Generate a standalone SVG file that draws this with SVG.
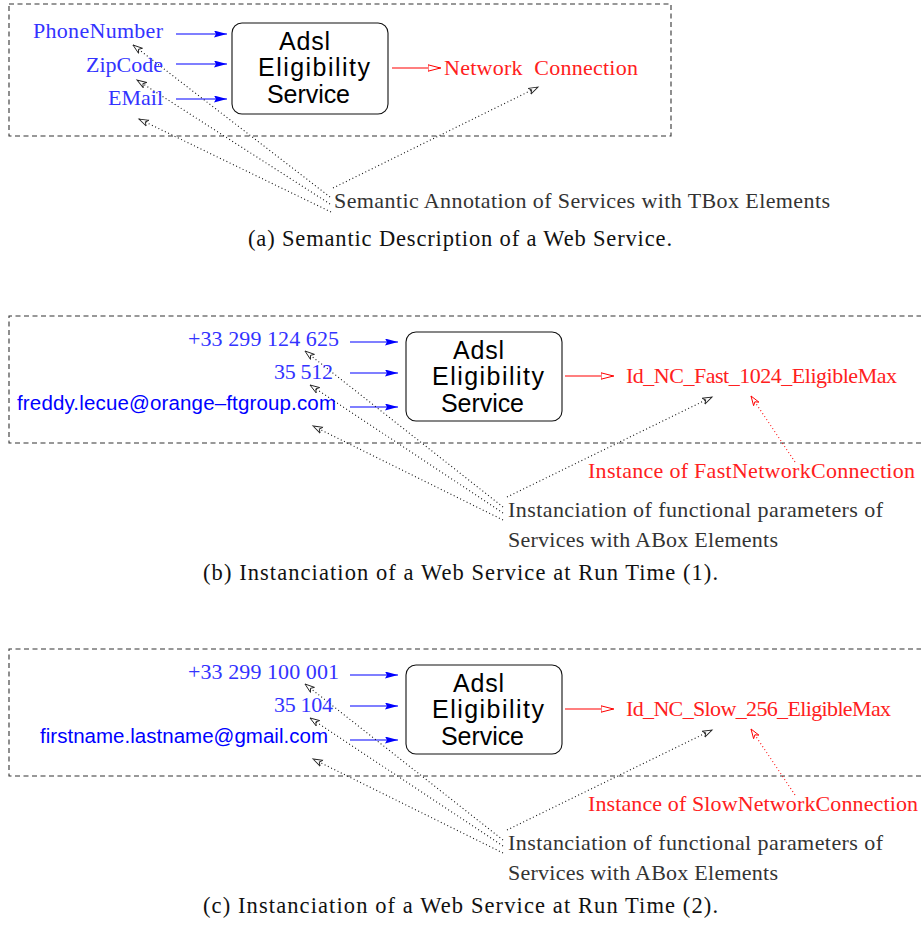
<svg xmlns="http://www.w3.org/2000/svg" width="921" height="925" viewBox="0 0 921 925">
<style>
.frame{fill:none;stroke:#333;stroke-width:1.1;stroke-dasharray:5 3.5}
.box{fill:#fff;stroke:#111;stroke-width:1.1}
.bt{font-family:"Liberation Sans",Arial,sans-serif;font-size:25px;fill:#000}
.in{font-family:"Liberation Serif","Times New Roman",serif;font-size:22px;fill:#3333ff}
.ins{font-family:"Liberation Sans",Arial,sans-serif;font-size:20.5px;fill:#0000ff}
.out{font-family:"Liberation Serif","Times New Roman",serif;font-size:22px;fill:#ff2020}
.ann{font-family:"Liberation Serif","Times New Roman",serif;font-size:22px;fill:#333}
.cap{font-family:"Liberation Serif","Times New Roman",serif;font-size:22.5px;fill:#111}
.blue{stroke:#0000ff;stroke-width:1.2;fill:none;marker-end:url(#mb)}
.red{stroke:#ff0000;stroke-width:1.2;fill:none;marker-end:url(#mr)}
.dot{stroke:#111;stroke-width:1.1;stroke-dasharray:1 2.6;fill:none;marker-end:url(#md)}
.rdot{stroke:#ff0000;stroke-width:1.1;stroke-dasharray:1 2.6;fill:none;marker-end:url(#mrd)}
</style>
<defs>
<marker id="mb" markerUnits="userSpaceOnUse" markerWidth="14" markerHeight="8" refX="13" refY="3.5" orient="auto"><path d="M0,0 L13,3.5 L0,7 L2,3.5 Z" fill="#0000ff"/></marker>
<marker id="mr" markerUnits="userSpaceOnUse" markerWidth="15" markerHeight="9" refX="13.5" refY="4" orient="auto"><path d="M0.5,0.8 L13,4 L0.5,7.2 Z" fill="#fff" stroke="#ff0000" stroke-width="1"/></marker>
<marker id="md" markerUnits="userSpaceOnUse" markerWidth="12" markerHeight="9" refX="10" refY="4" orient="auto"><path d="M0.5,0.8 L10,4 L0.5,7.2 L3,4 Z" fill="#fff" stroke="#222" stroke-width="0.9"/></marker>
<marker id="mrd" markerUnits="userSpaceOnUse" markerWidth="12" markerHeight="9" refX="10" refY="4" orient="auto"><path d="M0.5,0.8 L10,4 L0.5,7.2 L3,4 Z" fill="#fff" stroke="#ff0000" stroke-width="0.9"/></marker>
</defs>

<g id="frames">
<rect class="frame" x="9" y="4" width="662" height="132"/>
<path class="frame" d="M930,316 H9 V443 H930"/>
<path class="frame" d="M930,649 H9 V776 H930"/>
</g>

<g id="connectors">
<!-- panel a -->
<line class="blue" x1="176" y1="34" x2="227" y2="34"/>
<line class="blue" x1="176" y1="64" x2="227" y2="64"/>
<line class="blue" x1="176" y1="99" x2="227" y2="99"/>
<line class="red" x1="392" y1="68" x2="441" y2="68"/>
<line class="dot" x1="330" y1="197" x2="133" y2="45"/>
<line class="dot" x1="330" y1="204" x2="137" y2="80"/>
<line class="dot" x1="331" y1="212" x2="139" y2="119"/>
<line class="dot" x1="333" y1="188" x2="538" y2="87"/>
<!-- panel b -->
<line class="blue" x1="350" y1="342" x2="398" y2="342"/>
<line class="blue" x1="350" y1="373" x2="398" y2="373"/>
<line class="blue" x1="350" y1="407" x2="398" y2="407"/>
<line class="red" x1="565" y1="376" x2="614" y2="376"/>
<line class="dot" x1="503" y1="507" x2="305" y2="351"/>
<line class="dot" x1="503" y1="513" x2="310" y2="385"/>
<line class="dot" x1="503" y1="520" x2="313" y2="426"/>
<line class="dot" x1="507" y1="497" x2="712" y2="397"/>
<line class="rdot" x1="795" y1="462" x2="751" y2="396"/>
<!-- panel c -->
<line class="blue" x1="350" y1="675" x2="398" y2="675"/>
<line class="blue" x1="350" y1="706" x2="398" y2="706"/>
<line class="blue" x1="350" y1="740" x2="398" y2="740"/>
<line class="red" x1="565" y1="709" x2="614" y2="709"/>
<line class="dot" x1="503" y1="840" x2="305" y2="684"/>
<line class="dot" x1="503" y1="846" x2="310" y2="718"/>
<line class="dot" x1="503" y1="853" x2="313" y2="759"/>
<line class="dot" x1="507" y1="830" x2="712" y2="730"/>
<line class="rdot" x1="795" y1="795" x2="751" y2="729"/>
</g>

<!-- panel a nodes -->
<g id="serviceA">
<rect class="box" x="232" y="23" width="156" height="91" rx="10"/>
<text class="bt" x="279" y="50" textLength="51">Adsl</text>
<text class="bt" x="258" y="76" textLength="112">Eligibility</text>
<text class="bt" x="267" y="103" textLength="83">Service</text>
</g>
<g id="phoneA"><text class="in" x="33" y="38" textLength="130">PhoneNumber</text></g>
<g id="zipA"><text class="in" x="86" y="72" textLength="77">ZipCode</text></g>
<g id="emailA"><text class="in" x="108" y="105" textLength="55">EMail</text></g>
<g id="outA"><text class="out" x="444" y="75" textLength="194" xml:space="preserve">Network  Connection</text></g>
<g id="annA"><text class="ann" x="334" y="208" textLength="496">Semantic Annotation of Services with TBox Elements</text></g>
<g id="capA"><text class="cap" x="248" y="246" textLength="424">(a) Semantic Description of a Web Service.</text></g>

<!-- panel b nodes -->
<g id="serviceB">
<rect class="box" x="406" y="332" width="156" height="89" rx="10"/>
<text class="bt" x="453" y="359" textLength="51">Adsl</text>
<text class="bt" x="432" y="385" textLength="112">Eligibility</text>
<text class="bt" x="441" y="412" textLength="83">Service</text>
</g>
<g id="phoneB"><text class="in" x="188" y="346" textLength="151">+33 299 124 625</text></g>
<g id="zipB"><text class="in" x="274" y="379" textLength="59">35 512</text></g>
<g id="emailB"><text class="ins" x="17" y="410" textLength="319">freddy.lecue@orange–ftgroup.com</text></g>
<g id="outB"><text class="out" x="626" y="383" textLength="271">Id_NC_Fast_1024_EligibleMax</text></g>
<g id="instB"><text class="out" x="588" y="478" textLength="327">Instance of FastNetworkConnection</text></g>
<g id="annB">
<text class="ann" x="508" y="517" textLength="375">Instanciation of functional parameters of</text>
<text class="ann" x="508" y="547" textLength="270">Services with ABox Elements</text>
</g>
<g id="capB"><text class="cap" x="203" y="580" textLength="515">(b) Instanciation of a Web Service at Run Time (1).</text></g>

<!-- panel c nodes -->
<g id="serviceC">
<rect class="box" x="406" y="665" width="156" height="89" rx="10"/>
<text class="bt" x="453" y="692" textLength="51">Adsl</text>
<text class="bt" x="432" y="718" textLength="112">Eligibility</text>
<text class="bt" x="441" y="745" textLength="83">Service</text>
</g>
<g id="phoneC"><text class="in" x="188" y="679" textLength="151">+33 299 100 001</text></g>
<g id="zipC"><text class="in" x="274" y="712" textLength="59">35 104</text></g>
<g id="emailC"><text class="ins" x="40" y="743" textLength="288">firstname.lastname@gmail.com</text></g>
<g id="outC"><text class="out" x="626" y="716" textLength="265">Id_NC_Slow_256_EligibleMax</text></g>
<g id="instC"><text class="out" x="588" y="811" textLength="330">Instance of SlowNetworkConnection</text></g>
<g id="annC">
<text class="ann" x="508" y="850" textLength="375">Instanciation of functional parameters of</text>
<text class="ann" x="508" y="880" textLength="270">Services with ABox Elements</text>
</g>
<g id="capC"><text class="cap" x="203" y="913" textLength="515">(c) Instanciation of a Web Service at Run Time (2).</text></g>
</svg>
